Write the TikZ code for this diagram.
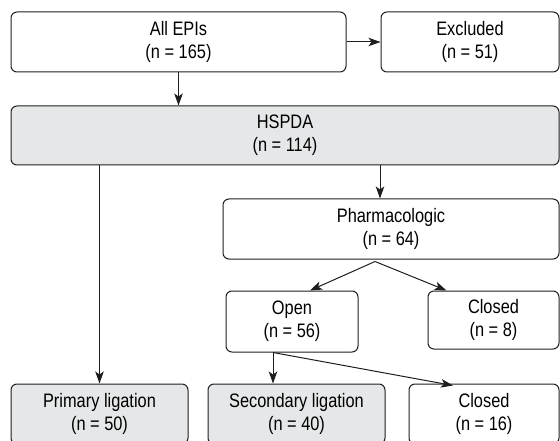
\documentclass[tikz,border=0pt]{standalone}
\usepackage{fontspec}
\setmainfont{Liberation Sans}[FakeStretch=0.84]
\usetikzlibrary{arrows.meta,calc}
\definecolor{boxgray}{RGB}{230,231,232}
\definecolor{linegray}{RGB}{30,30,30}
\tikzset{
  box/.style={draw=linegray, line width=1pt, rounded corners=6pt, align=center,
    inner sep=0pt, font=\fontsize{19.5}{23}\selectfont},
  gbox/.style={box, fill=boxgray},
  arr/.style={draw=linegray, line width=1pt, -{Stealth[length=12pt,width=8.5pt,inset=3pt]}}
}
\begin{document}
\begin{tikzpicture}[x=1pt,y=-1pt]
\path[use as bounding box, clip] (0,0) rectangle (560,441);
\node[box, minimum width=335, minimum height=60] (all) at (178.5,42) {All EPIs\\(n = 165)};
\node[box, minimum width=178, minimum height=60] (excl) at (470,42) {Excluded\\(n = 51)};
\node[gbox, minimum width=548, minimum height=59] (hspda) at (285,135.5) {HSPDA\\(n = 114)};
\node[box, minimum width=336, minimum height=60] (pharm) at (391,229) {Pharmacologic\\(n = 64)};
\node[box, minimum width=132, minimum height=61] (open) at (292,321.5) {Open\\(n = 56)};
\node[box, minimum width=131, minimum height=58] (closed1) at (493.5,320) {Closed\\(n = 8)};
\node[gbox, minimum width=177, minimum height=60] (prim) at (99.5,414) {Primary ligation\\(n = 50)};
\node[gbox, minimum width=177, minimum height=60] (sec) at (296.5,414) {Secondary ligation\\(n = 40)};
\node[box, minimum width=150, minimum height=60] (closed2) at (484,414) {Closed\\(n = 16)};
\coordinate (split) at ($(pharm.south)+(-16,2)$);
\coordinate (fork) at ($(open.south)+(-19,0)$);
\draw[arr] (all.east) -- (excl.west);
\draw[arr] (all.south) -- (all.south |- hspda.north);
\draw[arr] ([xshift=-11pt]pharm.north |- hspda.south) -- ([xshift=-11pt]pharm.north);
\draw[arr] (prim.north |- hspda.south) -- (prim.north);
\draw[arr] (split) -- ([xshift=18pt]open.north);
\draw[arr] (split) -- ([xshift=-47pt]closed1.north);
\draw[arr] (fork) -- (fork |- sec.north);
\draw[arr] (fork) -- ([xshift=-31pt,yshift=-2pt]closed2.north);
\end{tikzpicture}
\end{document}
